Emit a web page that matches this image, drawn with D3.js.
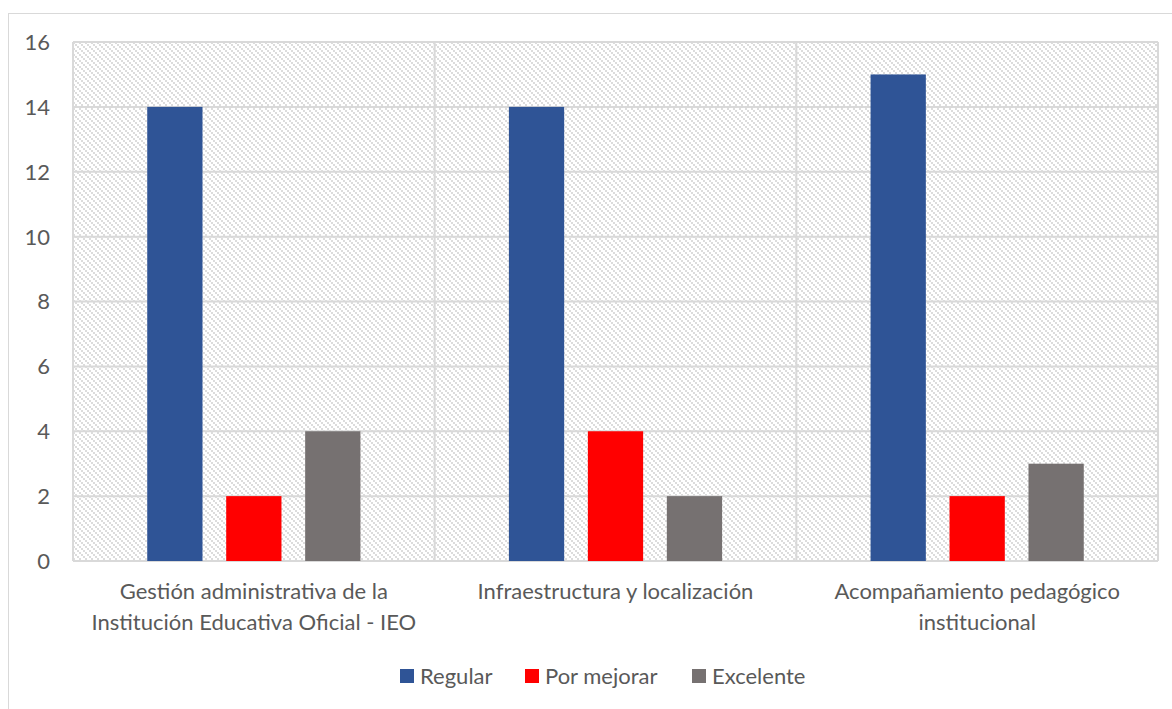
<!DOCTYPE html>
<html>
<head>
<meta charset="utf-8">
<script src="https://cdn.jsdelivr.net/npm/d3@7"></script>
<style>
  body { margin: 0; background: #fff; }
  text { font-family: Lato, "Open Sans", sans-serif; fill: #595959; }
</style>
</head>
<body>
<svg id="chart"></svg>
<script>
const categories = [
  ['Gestión administrativa de la', 'Institución Educativa Oficial - IEO'],
  ['Infraestructura y localización'],
  ['Acompañamiento pedagógico', 'institucional']
];
const series = ['Regular', 'Por mejorar', 'Excelente'];
const colors = ['#2F5496', '#FF0000', '#767171'];
const regular = [14, 14, 15];
const porMejorar = [2, 4, 2];
const excelente = [4, 2, 3];
const yTicks = [0, 2, 4, 6, 8, 10, 12, 14, 16];

const values = [regular, porMejorar, excelente];
const W = 1172, H = 709;
const margin = {top: 42, right: 14, bottom: 148, left: 73};
const width = W - margin.left - margin.right,
  height = H - margin.top - margin.bottom;

const svg = d3.select('#chart').attr('width', W).attr('height', H);

// hatch pattern for plot background (downward diagonal)
const defs = svg.append('defs');
const pat = defs.append('pattern')
  .attr('id', 'hatch')
  .attr('width', 6).attr('height', 6)
  .attr('patternUnits', 'userSpaceOnUse');
pat.append('rect').attr('width', 6).attr('height', 6).attr('fill', '#fff');
[[0,0],[2,2],[4,4]].forEach(p => {
  pat.append('rect').attr('x', p[0]).attr('y', p[1])
    .attr('width', 2).attr('height', 2).attr('fill', '#dcdcdc');
});

// outer border
svg.append('rect')
  .attr('x', 8.5).attr('y', 13.5)
  .attr('width', W + 20).attr('height', H + 20)
  .attr('fill', 'none').attr('stroke', '#d9d9d9');

const chart = svg.append('g')
  .attr('transform', `translate(${margin.left}, ${margin.top})`);

const idx = categories.map((c, i) => i);
const x0 = d3.scaleBand().domain(idx).range([0, width]);
const x1 = d3.scaleBand().domain(series)
  .range([0, x0.bandwidth()])
  .paddingInner(0.3)
  .paddingOuter(0.94);
const y = d3.scaleLinear().domain([0, 16]).range([height, 0]);

chart.append('rect')
  .attr('width', width).attr('height', height)
  .attr('fill', 'url(#hatch)');

// gridlines
chart.append('g')
  .selectAll('line')
  .data(yTicks)
  .enter().append('line')
  .attr('x1', 0).attr('x2', width)
  .attr('y1', d => y(d)).attr('y2', d => y(d))
  .attr('stroke', '#d9d9d9').attr('stroke-width', 2);

// category separators + borders
chart.append('g')
  .selectAll('line')
  .data(d3.range(categories.length + 1))
  .enter().append('line')
  .attr('x1', d => d * x0.step()).attr('x2', d => d * x0.step())
  .attr('y1', 0).attr('y2', height)
  .attr('stroke', '#d9d9d9').attr('stroke-width', 2);

// bars
const groups = chart.selectAll('.grp')
  .data(idx)
  .enter().append('g')
  .attr('class', 'grp')
  .attr('transform', d => `translate(${x0(d)},0)`);

groups.selectAll('rect')
  .data(i => series.map((s, j) => ({s: s, j: j, v: values[j][i]})))
  .enter().append('rect')
  .attr('x', d => x1(d.s))
  .attr('width', x1.bandwidth())
  .attr('y', d => y(d.v))
  .attr('height', d => height - y(d.v))
  .attr('fill', d => colors[d.j]);

// y axis labels
chart.append('g')
  .selectAll('text')
  .data(yTicks)
  .enter().append('text')
  .attr('x', -23)
  .attr('y', d => y(d))
  .attr('dy', '0.36em')
  .attr('text-anchor', 'end')
  .style('font-size', '22px')
  .text(d => d);

// category labels
const lab = chart.append('g')
  .selectAll('text')
  .data(idx)
  .enter().append('text')
  .attr('text-anchor', 'middle')
  .attr('transform', d => `translate(${x0(d) + x0.bandwidth() / 2},${height + 38})`)
  .style('font-size', '22px');
lab.selectAll('tspan')
  .data(d => categories[d])
  .enter().append('tspan')
  .attr('x', 0)
  .attr('y', (d, i) => i * 31)
  .text(d => d);

// legend
const legendX = [400, 525, 692];
const leg = svg.append('g')
  .selectAll('g')
  .data(series)
  .enter().append('g')
  .attr('transform', (d, i) => `translate(${legendX[i]},669)`);
leg.append('rect')
  .attr('width', 14).attr('height', 14)
  .attr('fill', (d, i) => colors[i]);
leg.append('text')
  .attr('x', 20).attr('y', 7).attr('dy', '0.36em')
  .style('font-size', '22px')
  .text(d => d);
</script>
</body>
</html>
